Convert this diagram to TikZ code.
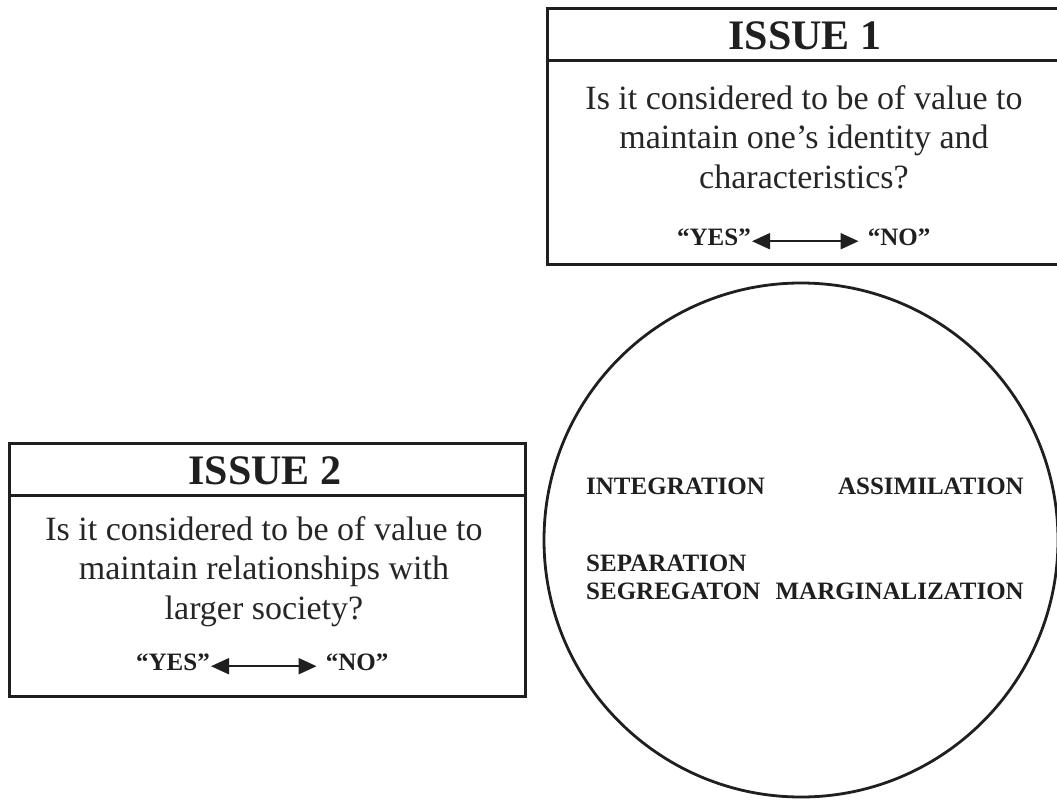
\documentclass[tikz,border=0pt]{standalone}
\usepackage{fontspec}
\setmainfont{Liberation Serif}
\usetikzlibrary{arrows.meta}
\begin{document}
\begin{tikzpicture}[x=1pt,y=-1pt,
  frame/.style={draw=black!88,line width=3pt,rectangle,inner sep=0pt,anchor=north west},
  divline/.style={draw=black!88,line width=3pt},
  header/.style={font=\bfseries\fontsize{42}{48}\selectfont,anchor=base,inner sep=0pt,text=black!88},
  body/.style={font=\fontsize{34}{39.5}\selectfont,anchor=base,align=center,inner sep=0pt,text=black!85},
  yn/.style={font=\bfseries\fontsize{25}{30}\selectfont,anchor=base,inner sep=0pt,text=black!88},
  lab/.style={font=\bfseries\fontsize{25}{28}\selectfont,anchor=base,inner sep=0pt,text=black!88},
  arr/.style={line width=2pt,draw=black!88,{Triangle[length=18pt,width=16pt]}-{Triangle[length=18pt,width=16pt]}},
  ring/.style={draw=black!88,line width=2.8pt,circle,inner sep=0pt}
]
\useasboundingbox (0,0) rectangle (1057,800);
% Issue 1 box
\node[frame,minimum width=519pt,minimum height=256pt] (box1) at (546,7) {};
\draw[divline] (546,61) -- (1066,61);
\node[header] (h1) at (805,50) {ISSUE 1};
\node[body] (q1) at (804,188) {Is it considered to be of value to\\maintain one’s identity and\\characteristics?};
\node[yn] (yes1) at (714,245) {“YES”};
\node[yn] (no1) at (899,245) {“NO”};
\draw[arr,shorten <=1pt,shorten >=9pt] ([yshift=1.5pt]yes1.mid east) -- ([yshift=1.5pt]no1.mid west);
% Issue 2 box
\node[frame,minimum width=516pt,minimum height=253pt] (box2) at (8,442) {};
\draw[divline] (box2.west |- 0,495) -- (box2.east |- 0,495);
\node[header] (h2) at (265,484) {ISSUE 2};
\node[body] (q2) at (264,619) {Is it considered to be of value to\\maintain relationships with\\larger society?};
\node[yn] (yes2) at (173,670) {“YES”};
\node[yn] (no2) at (357,670) {“NO”};
\draw[arr,shorten <=1pt,shorten >=9pt] ([yshift=1.5pt]yes2.mid east) -- ([yshift=1.5pt]no2.mid west);
% circle
\node[ring,minimum size=514pt] (c) at (801,540) {};
\node[lab,anchor=base west] (integ) at (586,494) {INTEGRATION};
\node[lab,anchor=base east] (assim) at (1024,494) {ASSIMILATION};
\node[lab,anchor=base west,align=left] (sep) at (586,599) {SEPARATION\\SEGREGATON};
\node[lab,anchor=base east] (marg) at (1024,599) {MARGINALIZATION};
\end{tikzpicture}
\end{document}
